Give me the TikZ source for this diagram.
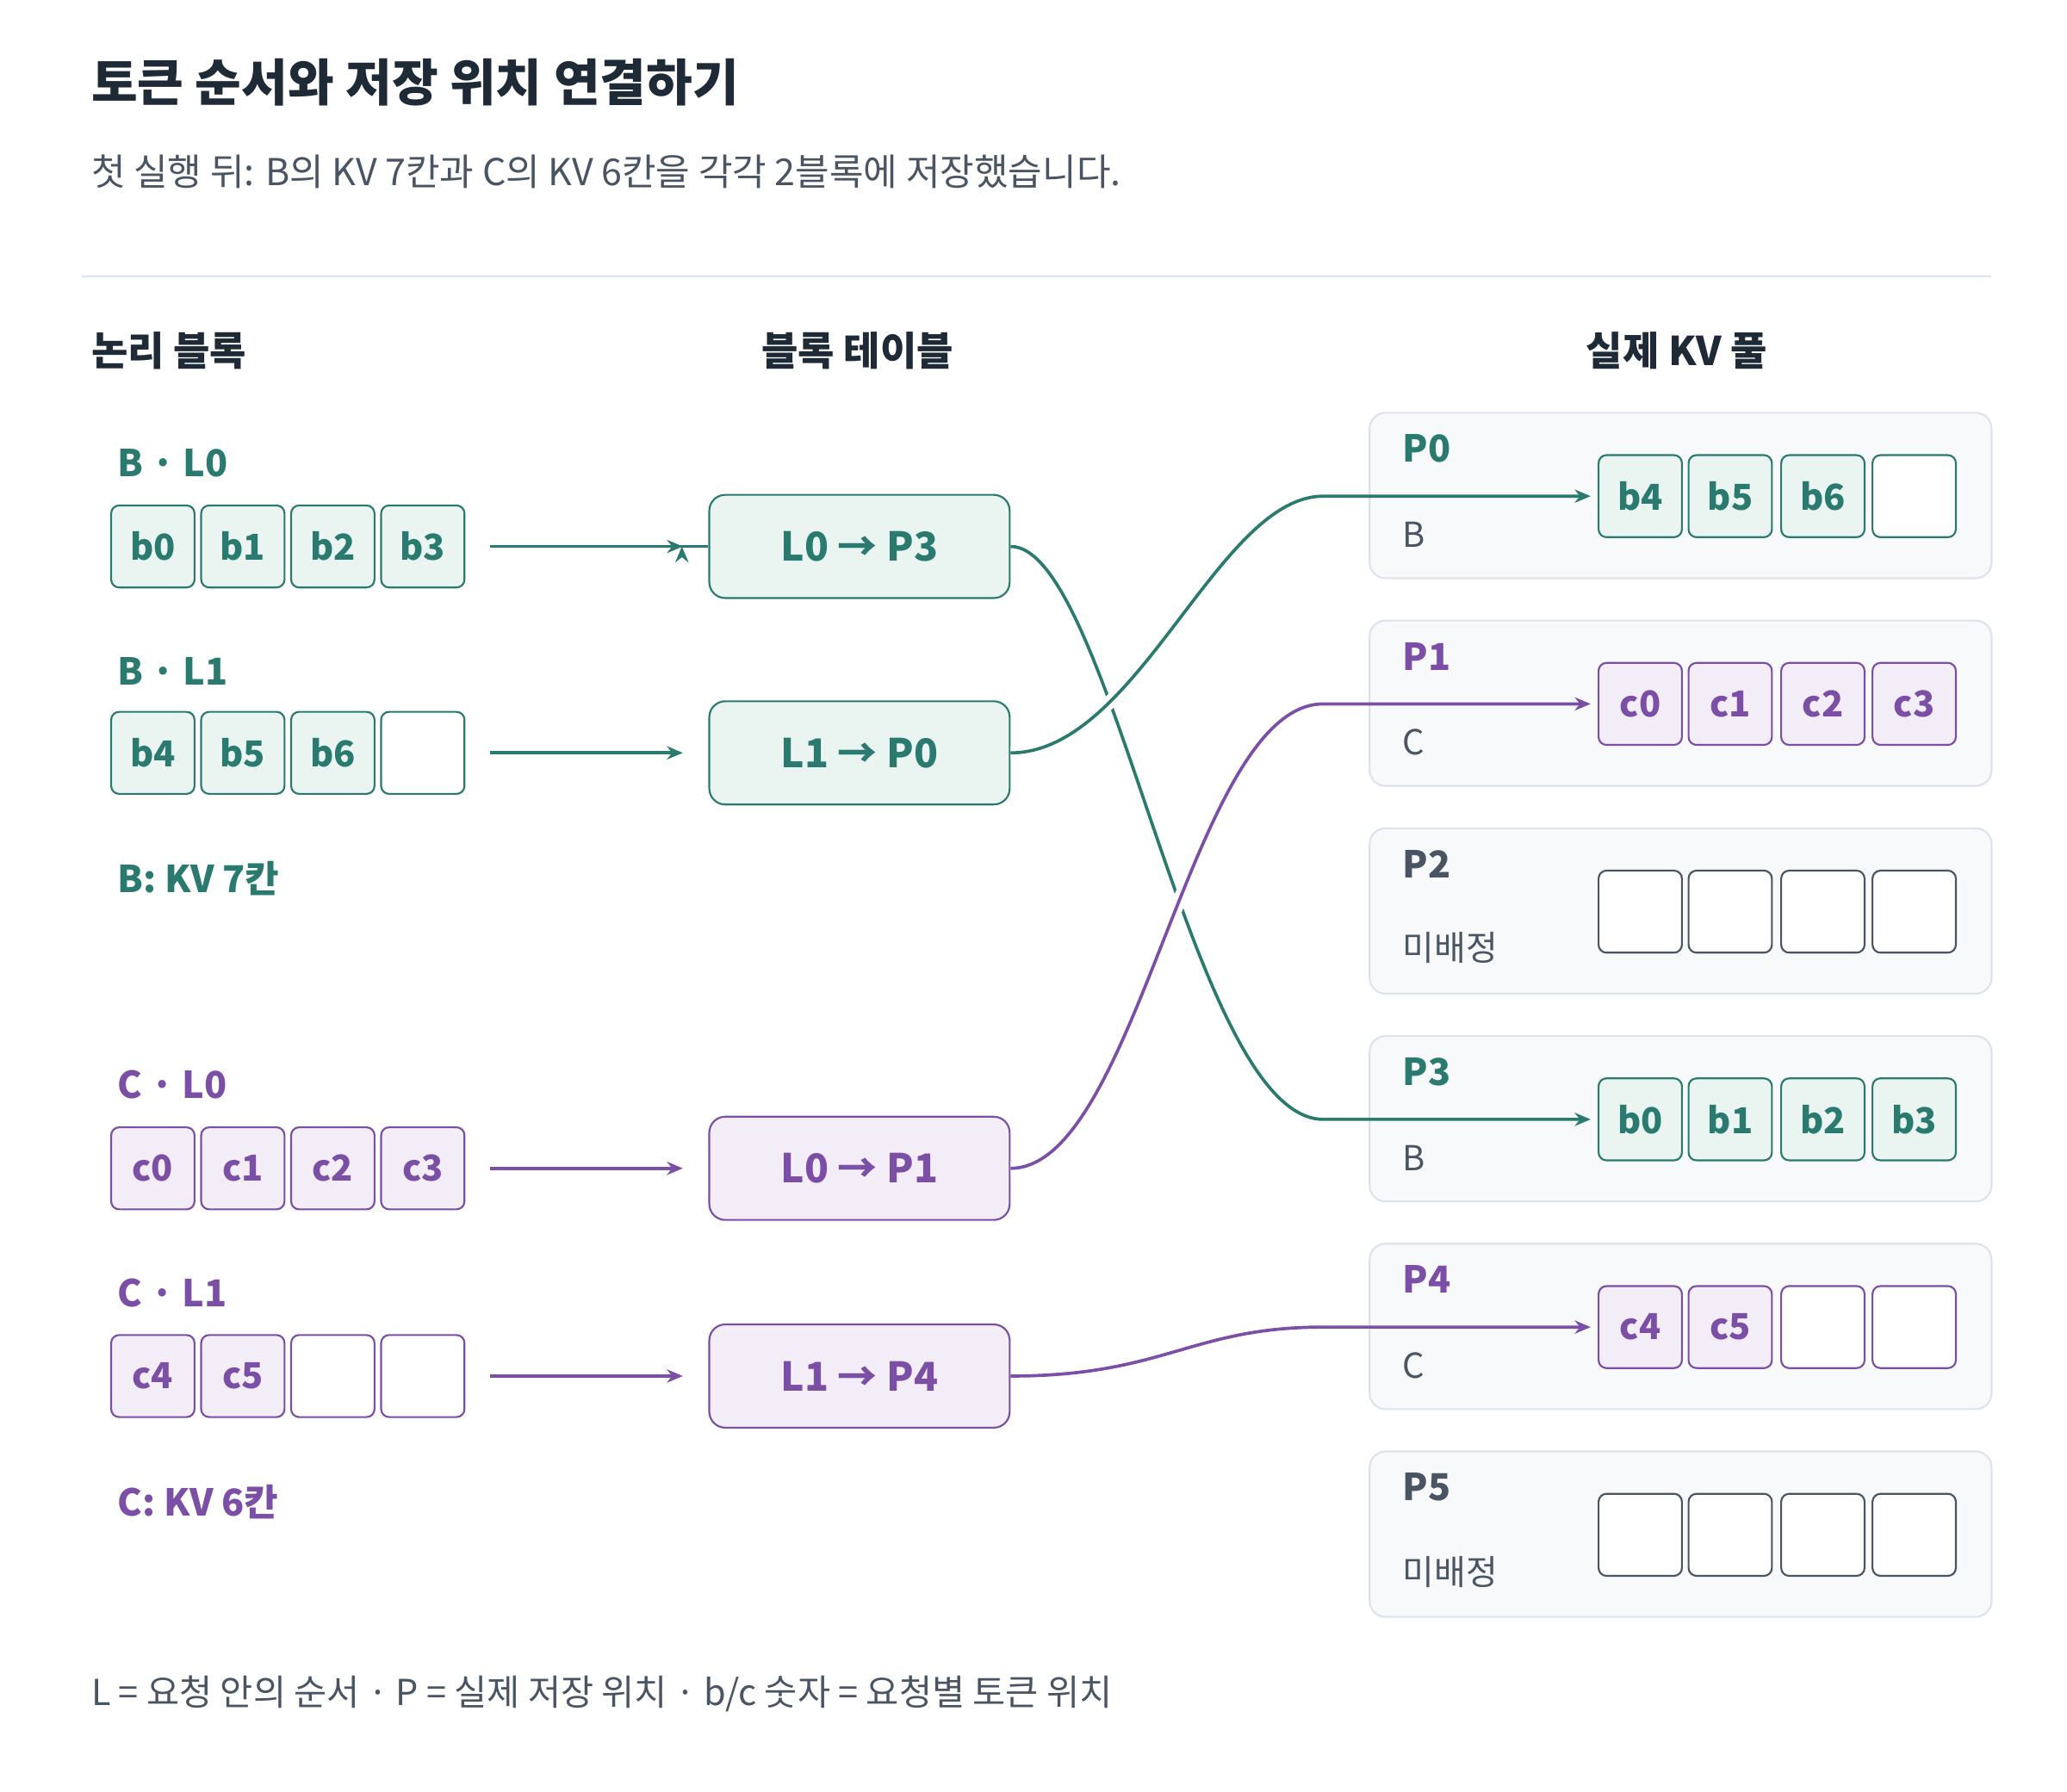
\documentclass[tikz,border=0pt]{standalone}
\usepackage{fontspec}
\setmainfont{Noto Sans CJK KR}
\usetikzlibrary{arrows.meta}
\definecolor{tealc}{HTML}{2A7A6F}
\definecolor{tealf}{HTML}{EAF5F2}
\definecolor{purc}{HTML}{7B4FA6}
\definecolor{purf}{HTML}{F3EDF8}
\definecolor{slate}{HTML}{4A5563}
\definecolor{titlec}{HTML}{1F2A37}
\definecolor{poolf}{HTML}{F7F9FB}
\definecolor{poold}{HTML}{DDE3EA}
\begin{document}
\begin{tikzpicture}[x=0.5pt,y=-0.5pt,
 cell/.style={draw,rounded corners=3pt,minimum width=31.5pt,minimum height=31pt,inner sep=0pt,line width=0.7pt,font=\fontsize{13.5}{14}\selectfont\bfseries},
 tb/.style={cell,fill=tealf,draw=tealc,text=tealc},
 pb/.style={cell,fill=purf,draw=purc,text=purc},
 eb/.style={cell,fill=white,draw=slate},
 ebt/.style={cell,fill=white,draw=tealc},
 ebp/.style={cell,fill=white,draw=purc},
 tab/.style={draw,rounded corners=6pt,minimum width=113.5pt,minimum height=39pt,line width=0.7pt,font=\fontsize{15}{16}\selectfont\bfseries},
 pool/.style={draw=poold,fill=poolf,rounded corners=6pt,minimum width=235pt,minimum height=62.5pt,line width=0.7pt},
 lab/.style={anchor=west,font=\fontsize{14}{15}\selectfont\bfseries},
 sub/.style={anchor=west,text=slate,font=\fontsize{13}{14}\selectfont},
 arr/.style={-{Stealth[length=6pt,width=5pt]},line width=1.2pt},
 halo/.style={line width=5pt,white}]
\useasboundingbox (0,0) rectangle (1562,1354);
\node[anchor=west,text=titlec,font=\fontsize{19}{20}\selectfont\bfseries] (title) at (62,62) {토큰 순서와 저장 위치 연결하기};
\node[anchor=west,text=slate,font=\fontsize{14}{15}\selectfont] (subt) at (62,130) {첫 실행 뒤: B의 KV 7칸과 C의 KV 6칸을 각각 2블록에 저장했습니다.};
\draw[poold,line width=0.8pt] (62,209) -- (1505,209);
\node[anchor=west,text=titlec,font=\fontsize{15}{16}\selectfont\bfseries] (h1) at (62,265) {논리 블록};
\node[text=titlec,font=\fontsize{15}{16}\selectfont\bfseries] (h2) at (648,265) {블록 테이블};
\node[text=titlec,font=\fontsize{15}{16}\selectfont\bfseries] (h3) at (1267,265) {실제 KV 풀};
% logical
\node[lab,text=tealc] (lb0) at (82,350) {B · L0};
\node[tb] (b0) at (115.5,413) {b0};\node[tb] (b1) at (183.5,413) {b1};\node[tb] (b2) at (251.5,413) {b2};\node[tb] (b3) at (319.5,413) {b3};
\node[lab,text=tealc] (lb1) at (82,507) {B · L1};
\node[tb] (b4) at (115.5,569) {b4};\node[tb] (b5) at (183.5,569) {b5};\node[tb] (b6) at (251.5,569) {b6};\node[ebt] (bx) at (319.5,569) {};
\node[lab,text=tealc] (bkv) at (82,664) {B: KV 7칸};
\node[lab,text=purc] (lc0) at (82,820) {C · L0};
\node[pb] (c0) at (115.5,883) {c0};\node[pb] (c1) at (183.5,883) {c1};\node[pb] (c2) at (251.5,883) {c2};\node[pb] (c3) at (319.5,883) {c3};
\node[lab,text=purc] (lc1) at (82,977) {C · L1};
\node[pb] (c4) at (115.5,1040) {c4};\node[pb] (c5) at (183.5,1040) {c5};\node[ebp] (cx1) at (251.5,1040) {};\node[ebp] (cx2) at (319.5,1040) {};
\node[lab,text=purc] (ckv) at (82,1135) {C: KV 6칸};
% table
\node[tab,fill=tealf,draw=tealc,text=tealc] (t0) at (649.5,413) {L0 → P3};
\node[tab,fill=tealf,draw=tealc,text=tealc] (t1) at (649.5,569) {L1 → P0};
\node[tab,fill=purf,draw=purc,text=purc] (t2) at (649.5,883) {L0 → P1};
\node[tab,fill=purf,draw=purc,text=purc] (t3) at (649.5,1040) {L1 → P4};
\coordinate (a0) at (370,413);\coordinate (a1) at (370,569);\coordinate (a2) at (370,883);\coordinate (a3) at (370,1040);
\draw[arr,tealc] (a0) -- (t0.west|-a0) ++(-20,0);
\draw[arr,tealc] (a0) -- (516,413);
\draw[arr,tealc] (a1) -- (516,569);
\draw[arr,purc] (a2) -- (516,883);
\draw[arr,purc] (a3) -- (516,1040);
% pool
\foreach \i/\t in {0/312,1/469,2/626,3/783,4/940,5/1097}{
 \node[pool] (p\i) at (1270,\t+62.5) {};
}
\node[lab,text=tealc] (pl0) at (1053,339) {P0};\node[sub] (ps0) at (1053,404) {B};
\node[lab,text=purc] (pl1) at (1053,496) {P1};\node[sub] (ps1) at (1053,561) {C};
\node[lab,text=slate] (pl2) at (1053,653) {P2};\node[sub] (ps2) at (1053,716) {미배정};
\node[lab,text=tealc] (pl3) at (1053,810) {P3};\node[sub] (ps3) at (1053,875) {B};
\node[lab,text=purc] (pl4) at (1053,967) {P4};\node[sub] (ps4) at (1053,1032) {C};
\node[lab,text=slate] (pl5) at (1053,1124) {P5};\node[sub] (ps5) at (1053,1188) {미배정};
\node[tb] (q04) at (1239.5,375) {b4};\node[tb] (q05) at (1307.5,375) {b5};\node[tb] (q06) at (1377.5,375) {b6};\node[ebt] (q0x) at (1446.5,375) {};
\node[pb] (q10) at (1239.5,532) {c0};\node[pb] (q11) at (1307.5,532) {c1};\node[pb] (q12) at (1377.5,532) {c2};\node[pb] (q13) at (1446.5,532) {c3};
\node[eb] (q20) at (1239.5,689) {};\node[eb] (q21) at (1307.5,689) {};\node[eb] (q22) at (1377.5,689) {};\node[eb] (q23) at (1446.5,689) {};
\node[tb] (q30) at (1239.5,846) {b0};\node[tb] (q31) at (1307.5,846) {b1};\node[tb] (q32) at (1377.5,846) {b2};\node[tb] (q33) at (1446.5,846) {b3};
\node[pb] (q44) at (1239.5,1003) {c4};\node[pb] (q45) at (1307.5,1003) {c5};\node[ebp] (q4x) at (1377.5,1003) {};\node[ebp] (q4y) at (1446.5,1003) {};
\node[eb] (q50) at (1239.5,1160) {};\node[eb] (q51) at (1307.5,1160) {};\node[eb] (q52) at (1377.5,1160) {};\node[eb] (q53) at (1446.5,1160) {};
% curves
\coordinate (e0) at (1202,846);\coordinate (e1) at (1202,375);\coordinate (e2) at (1202,532);\coordinate (e3) at (1202,1003);
\draw[arr,tealc] (t0.east) .. controls (840,413) and (900,846) .. (1000,846) -- (e0);
\draw[halo] (t1.east) .. controls (860,569) and (920,375) .. (1000,375);
\draw[arr,tealc] (t1.east) .. controls (860,569) and (920,375) .. (1000,375) -- (e1);
\draw[halo] (t2.east) .. controls (860,883) and (900,532) .. (1000,532);
\draw[arr,purc] (t2.east) .. controls (860,883) and (900,532) .. (1000,532) -- (e2);
\draw[arr,purc] (t3.east) .. controls (880,1040) and (900,1003) .. (1000,1003) -- (e3);
\node[anchor=west,text=slate,font=\fontsize{13.5}{14}\selectfont] (foot) at (62,1280) {L = 요청 안의 순서 · P = 실제 저장 위치 · b/c 숫자 = 요청별 토큰 위치};
\end{tikzpicture}
\end{document}
